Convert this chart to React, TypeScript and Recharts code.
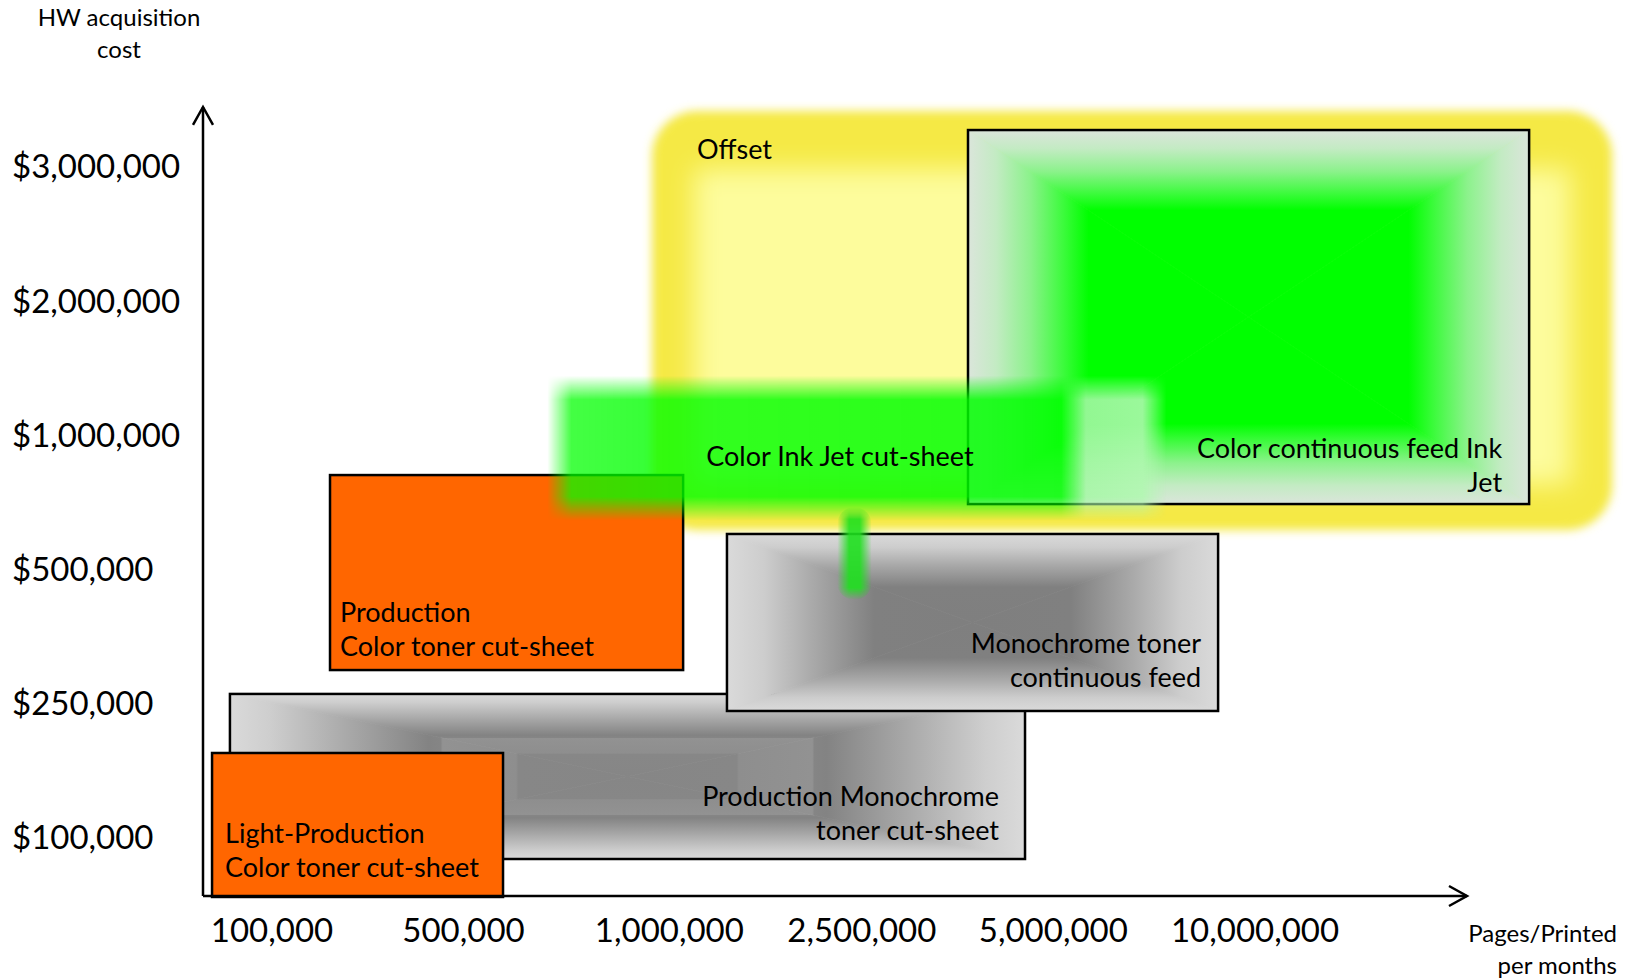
import React from 'react';
import { ComposedChart, XAxis, YAxis, ReferenceArea, ReferenceLine } from 'recharts';

const W = 1629;
const H = 980;
const FONT = 'Lato, "Noto Sans", sans-serif';

// Axis tick labels and where each one sits on its axis (tick-index units)
const volumeTicks = ['100,000', '500,000', '1,000,000', '2,500,000', '5,000,000', '10,000,000'];
const volumeTickPos = [0, 0.974, 2.021, 3, 3.974, 5];
const costTicks = ['$100,000', '$250,000', '$500,000', '$1,000,000', '$2,000,000', '$3,000,000'];
const costTickPos = [0, 1, 2, 3, 4, 5];

// Visible range of each axis, in tick-index units
const xDomain = [-0.351, 6.902];
const yDomain = [-0.4367, 6.24];
// Where the axis arrows end
const xArrowEnd = [6.078];
const yArrowEnd = [5.443];

// Segments, in drawing order: 0 Offset, 1 Color continuous feed Ink Jet,
// 2 Production color toner, 3 Production mono toner cut-sheet,
// 4 Mono toner continuous feed, 5 Light-production color toner, 6 Color Ink Jet cut-sheet
const segLines = [
  ['Offset'],
  ['Color continuous feed Ink', 'Jet'],
  ['Production', 'Color toner cut-sheet'],
  ['Production Monochrome', 'toner cut-sheet'],
  ['Monochrome toner', 'continuous feed'],
  ['Light-Production', 'Color toner cut-sheet'],
  ['Color Ink Jet cut-sheet'],
];
const segX1 = [1.933, 3.54, 0.295, -0.214, 2.314, -0.305, 1.4];
const segX2 = [6.816, 6.394, 2.091, 3.83, 4.812, 1.175, 4.55];
const segY1 = [2.291, 2.484, 1.247, -0.161, 0.942, -0.444, 2.36];
const segY2 = [5.413, 5.271, 2.7, 1.069, 2.261, 0.629, 3.44];

// Pointer hanging from the ink-jet cut-sheet callout
const pointerX = [2.875, 3.05];
const pointerY = [1.77, 2.46];

type Stop = [number, string, number?];

const greyStopsWide: Stop[] = [
  [0, '#dadada'],
  [0.1, '#cecece'],
  [0.3, '#a8a8a8'],
  [0.5, '#838383'],
  [0.53, '#858585'],
  [0.535, '#929292'],
  [0.72, '#8e8e8e'],
  [0.725, '#878787'],
  [1, '#868686'],
];
const greyStops: Stop[] = [
  [0, '#dadada'],
  [0.15, '#cdcdcd'],
  [0.35, '#a9a9a9'],
  [0.6, '#808080'],
  [1, '#7f7f7f'],
];
const inkFeedStops: Stop[] = [
  [0, '#dbe5db'],
  [0.1, '#c3ebc3'],
  [0.22, '#8cf28c'],
  [0.34, '#3cfb3c'],
  [0.43, '#00ff00'],
  [1, '#00ff00'],
];
// Left-to-right fill of the cut-sheet ink-jet callout (semi-transparent)
const calloutStops: Stop[] = [
  [0, '#00ff00', 0.72],
  [0.2, '#00ff00', 0.8],
  [0.83, '#00ff00', 0.85],
  [0.87, '#a6f6a6', 0.88],
  [1, '#b4f7b4', 0.88],
];

function PathGradient({ id, x, y, w, h, fx = 0.5, fy = 0.5, stops }: any) {
  const cx = x + fx * w;
  const cy = y + fy * h;
  const sides = [
    { k: 't', pts: `${x},${y} ${x + w},${y} ${cx},${cy}`, g: [cx, y, cx, cy] },
    { k: 'b', pts: `${x},${y + h} ${x + w},${y + h} ${cx},${cy}`, g: [cx, y + h, cx, cy] },
    { k: 'l', pts: `${x},${y} ${x},${y + h} ${cx},${cy}`, g: [x, cy, cx, cy] },
    { k: 'r', pts: `${x + w},${y} ${x + w},${y + h} ${cx},${cy}`, g: [x + w, cy, cx, cy] },
  ];
  return (
    <g>
      <defs>
        {sides.map((s) => (
          <linearGradient
            key={s.k}
            id={`${id}-${s.k}`}
            gradientUnits="userSpaceOnUse"
            x1={s.g[0]}
            y1={s.g[1]}
            x2={s.g[2]}
            y2={s.g[3]}
          >
            {stops.map(([o, c, a]: Stop, i: number) => (
              <stop key={i} offset={o} stopColor={c} stopOpacity={a ?? 1} />
            ))}
          </linearGradient>
        ))}
      </defs>
      {sides.map((s) => (
        <polygon
          key={s.k}
          points={s.pts}
          fill={`url(#${id}-${s.k})`}
          stroke={`url(#${id}-${s.k})`}
          strokeWidth={0.8}
          strokeLinejoin="round"
        />
      ))}
    </g>
  );
}

// Soft edges: fade a shape to transparent over `f` pixels on every side
function Feather({ id, x, y, w, h, f, children }: any) {
  const fx = Math.min(0.5, f / w);
  const fy = Math.min(0.5, f / h);
  const ramp = (o: number) => [
    <stop key="a" offset={0} stopColor="#fff" stopOpacity={0} />,
    <stop key="b" offset={o} stopColor="#fff" stopOpacity={1} />,
    <stop key="c" offset={1 - o} stopColor="#fff" stopOpacity={1} />,
    <stop key="d" offset={1} stopColor="#fff" stopOpacity={0} />,
  ];
  return (
    <g>
      <defs>
        <linearGradient id={`${id}-hg`} gradientUnits="userSpaceOnUse" x1={x} y1={y} x2={x + w} y2={y}>
          {ramp(fx)}
        </linearGradient>
        <linearGradient id={`${id}-vg`} gradientUnits="userSpaceOnUse" x1={x} y1={y} x2={x} y2={y + h}>
          {ramp(fy)}
        </linearGradient>
        <mask id={`${id}-hm`} maskUnits="userSpaceOnUse" x={x - 2} y={y - 2} width={w + 4} height={h + 4}>
          <rect x={x} y={y} width={w} height={h} fill={`url(#${id}-hg)`} />
        </mask>
        <mask id={`${id}-vm`} maskUnits="userSpaceOnUse" x={x - 2} y={y - 2} width={w + 4} height={h + 4}>
          <rect x={x} y={y} width={w} height={h} fill={`url(#${id}-vg)`} />
        </mask>
      </defs>
      <g mask={`url(#${id}-hm)`}>
        <g mask={`url(#${id}-vm)`}>{children}</g>
      </g>
    </g>
  );
}

const LABEL_SIZE = 27;
const LINE_H = 34;

function TextLines({ x, lastBaseline, lines, anchor }: any) {
  const n = lines.length;
  return (
    <text fontFamily={FONT} fontSize={LABEL_SIZE} fill="#000" textAnchor={anchor}>
      {lines.map((l: string, i: number) => (
        <tspan key={i} x={x} y={lastBaseline - (n - 1 - i) * LINE_H}>
          {l}
        </tspan>
      ))}
    </text>
  );
}

const OffsetShape = (p: any) => {
  const { x, y, width: w, height: h } = p;
  return (
    <g>
      <defs>
        <filter id="soft-outer" x="-10%" y="-10%" width="120%" height="120%">
          <feGaussianBlur stdDeviation={5} />
        </filter>
        <filter id="soft-inner" x="-20%" y="-20%" width="140%" height="140%">
          <feGaussianBlur stdDeviation={13} />
        </filter>
      </defs>
      <rect x={x} y={y} width={w} height={h} rx={45} ry={45} fill="#f5e945" filter="url(#soft-outer)" />
      <rect x={x + 42} y={y + 58} width={w - 84} height={h - 104} fill="#fdfc9c" filter="url(#soft-inner)" />
      <TextLines x={x + 45} lastBaseline={y + 48} lines={segLines[0]} anchor="start" />
    </g>
  );
};

const InkFeedBox = (p: any) => {
  const { x, y, width: w, height: h } = p;
  return (
    <g>
      <PathGradient id="ink-feed" x={x} y={y} w={w} h={h} stops={inkFeedStops} />
      <rect x={x} y={y} width={w} height={h} fill="none" stroke="#000" strokeWidth={2.5} />
    </g>
  );
};

const InkFeedText = (p: any) => {
  const { x, y, width: w, height: h } = p;
  return <TextLines x={x + w - 27} lastBaseline={y + h - 12} lines={segLines[1]} anchor="end" />;
};

const orangeShape = (idx: number, padX: number, padB: number) => (p: any) => {
  const { x, y, width: w, height: h } = p;
  return (
    <g>
      <rect x={x} y={y} width={w} height={h} fill="#ff6600" stroke="#000" strokeWidth={2.5} />
      <TextLines x={x + padX} lastBaseline={y + h - padB} lines={segLines[idx]} anchor="start" />
    </g>
  );
};

const greyShape = (idx: number, id: string, stops: Stop[], padX: number, padB: number) => (p: any) => {
  const { x, y, width: w, height: h } = p;
  return (
    <g>
      <PathGradient id={id} x={x} y={y} w={w} h={h} stops={stops} />
      <rect x={x} y={y} width={w} height={h} fill="none" stroke="#000" strokeWidth={2.5} />
      <TextLines x={x + w - padX} lastBaseline={y + h - padB} lines={segLines[idx]} anchor="end" />
    </g>
  );
};

const CalloutShape = (p: any) => {
  const { x, y, width: w, height: h } = p;
  return (
    <g>
      <defs>
        <linearGradient id="callout-fill" gradientUnits="userSpaceOnUse" x1={x} y1={y} x2={x + w} y2={y}>
          {calloutStops.map(([o, c, a], i) => (
            <stop key={i} offset={o} stopColor={c} stopOpacity={a ?? 1} />
          ))}
        </linearGradient>
      </defs>
      <Feather id="callout-soft" x={x} y={y} w={w} h={h} f={24}>
        <rect x={x} y={y} width={w} height={h} fill="url(#callout-fill)" />
      </Feather>
    </g>
  );
};

const CalloutText = (p: any) => {
  const { x, y } = p;
  return <TextLines x={x + 159} lastBaseline={y + 90} lines={segLines[6]} anchor="start" />;
};

const PointerShape = (p: any) => {
  const { x, y, width: w, height: h } = p;
  return (
    <Feather id="pointer-soft" x={x} y={y} w={w} h={h} f={12}>
      <rect x={x} y={y} width={w} height={h} rx={w / 2} ry={w / 2} fill="#1ee01e" opacity={0.9} />
    </Feather>
  );
};

const ArrowLine = (p: any) => {
  const { x1, y1, x2, y2 } = p;
  const dx = x2 - x1;
  const dy = y2 - y1;
  const len = Math.hypot(dx, dy) || 1;
  const ux = dx / len;
  const uy = dy / len;
  const L = 18;
  const Wd = 10;
  const bx = x2 - ux * L;
  const by = y2 - uy * L;
  return (
    <g>
      <line x1={x1} y1={y1} x2={x2} y2={y2} stroke="#000" strokeWidth={2.5} />
      <polyline
        points={`${bx - uy * Wd},${by + ux * Wd} ${x2},${y2} ${bx + uy * Wd},${by - ux * Wd}`}
        fill="none"
        stroke="#000"
        strokeWidth={2.5}
      />
    </g>
  );
};

const labelAt = (labels: string[], pos: number[], v: number) => {
  const i = pos.findIndex((q) => Math.abs(q - v) < 1e-6);
  return i >= 0 ? labels[i] : '';
};

const XTick = (p: any) => (
  <text x={p.x} y={p.y + 46} textAnchor="middle" fontFamily={FONT} fontSize={33} fill="#000">
    {labelAt(volumeTicks, volumeTickPos, p.payload.value)}
  </text>
);

const YTick = (p: any) => (
  <text x={12} y={p.y + 12} textAnchor="start" fontFamily={FONT} fontSize={33} fill="#000">
    {labelAt(costTicks, costTickPos, p.payload.value)}
  </text>
);

const CostTitle = () => (
  <text fontFamily={FONT} fontSize={24} fill="#000" textAnchor="middle">
    <tspan x={119} y={26}>HW acquisition</tspan>
    <tspan x={119} y={58}>cost</tspan>
  </text>
);

const VolumeTitle = () => (
  <text fontFamily={FONT} fontSize={24} fill="#000" textAnchor="end">
    <tspan x={1617} y={942}>Pages/Printed</tspan>
    <tspan x={1617} y={974}>per months</tspan>
  </text>
);

const area = (i: number) => ({ x1: segX1[i], x2: segX2[i], y1: segY1[i], y2: segY2[i] });

const anchorData = costTickPos.map((v, i) => ({ x: volumeTickPos[i], y: v }));

export default function App() {
  return (
    <div style={{ position: 'absolute', left: 0, top: 0, width: W, height: H, background: '#fff' }}>
      <ComposedChart width={W} height={H} data={anchorData} margin={{ top: 0, right: 0, bottom: 0, left: 0 }}>
        <XAxis
          type="number"
          dataKey="x"
          domain={xDomain}
          allowDataOverflow
          ticks={volumeTickPos}
          interval={0}
          height={84}
          axisLine={false}
          tickLine={false}
          tickSize={0}
          tickMargin={0}
          tick={XTick}
          label={<VolumeTitle />}
        />
        <YAxis
          type="number"
          dataKey="y"
          domain={yDomain}
          allowDataOverflow
          ticks={costTickPos}
          interval={0}
          width={203}
          axisLine={false}
          tickLine={false}
          tickSize={0}
          tickMargin={0}
          tick={YTick}
          label={<CostTitle />}
        />
        <ReferenceArea {...area(0)} ifOverflow="visible" shape={OffsetShape} />
        <ReferenceArea {...area(1)} ifOverflow="visible" shape={InkFeedBox} />
        <ReferenceArea {...area(2)} ifOverflow="visible" shape={orangeShape(2, 10, 14)} />
        <ReferenceArea {...area(3)} ifOverflow="visible" shape={greyShape(3, 'mono-cut', greyStopsWide, 26, 19)} />
        <ReferenceArea {...area(4)} ifOverflow="visible" shape={greyShape(4, 'mono-feed', greyStops, 17, 24)} />
        <ReferenceArea {...area(5)} ifOverflow="visible" shape={orangeShape(5, 13, 20)} />
        <ReferenceArea {...area(6)} ifOverflow="visible" shape={CalloutShape} />
        <ReferenceArea
          x1={pointerX[0]}
          x2={pointerX[1]}
          y1={pointerY[0]}
          y2={pointerY[1]}
          ifOverflow="visible"
          shape={PointerShape}
        />
        <ReferenceArea {...area(1)} ifOverflow="visible" shape={InkFeedText} />
        <ReferenceArea {...area(6)} ifOverflow="visible" shape={CalloutText} />
        <ReferenceLine
          segment={[{ x: xDomain[0], y: yDomain[0] }, { x: xDomain[0], y: yArrowEnd[0] }]}
          ifOverflow="visible"
          shape={ArrowLine}
        />
        <ReferenceLine
          segment={[{ x: xDomain[0], y: yDomain[0] }, { x: xArrowEnd[0], y: yDomain[0] }]}
          ifOverflow="visible"
          shape={ArrowLine}
        />
      </ComposedChart>
    </div>
  );
}
